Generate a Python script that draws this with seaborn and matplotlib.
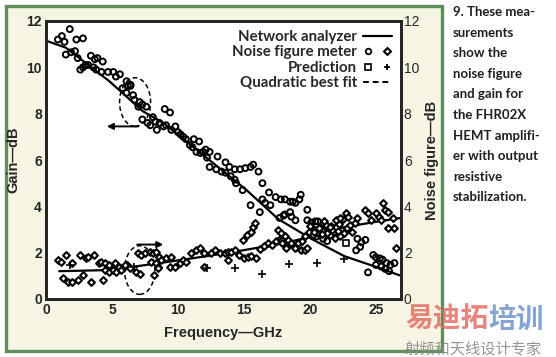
import matplotlib
matplotlib.use("Agg")
import matplotlib.pyplot as plt
from matplotlib.patches import Rectangle, Ellipse
from matplotlib.lines import Line2D
from matplotlib.legend_handler import HandlerTuple
import numpy as np
import pandas as pd
import seaborn as sns

# network analyzer curves (solid lines)
na_gain_freq = [0, 1.5, 4.8, 7.35, 8.9, 11.4, 15.2, 17.6, 20.1, 22.6, 25.2, 26.9]
na_gain_db = [11.15, 10.85, 9.4, 8.1, 7.6, 6.45, 4.7, 3.45, 2.6, 1.85, 1.35, 1.0]
na_nf_freq = [1.0, 4.8, 8.6, 11.0, 13.9, 16.4, 18.0, 20.1, 22.6, 25.2, 26.9]
na_nf_db = [1.2, 1.25, 1.55, 1.75, 2.0, 2.25, 2.4, 2.7, 3.1, 3.35, 3.5]

# noise figure meter, gain readings (circles)
nfm_gain_freq = [0.9, 1.2, 1.4, 1.8, 2.3, 2.8, 1.5, 1.9, 2.2, 2.6, 2.8, 3.2, 3.4, 3.7, 3.9, 4.3,
                 3.6, 3.8, 4.2, 4.7, 5.1, 5.6, 5.8, 6.2, 6.4, 6.1, 6.6, 6.7, 7.1, 7.0, 7.3, 7.6,
                 7.3, 7.7, 8.1, 8.3, 8.6, 8.9, 9.1, 9.0, 9.4, 7.9, 9.5, 9.8, 10.0, 10.2, 10.4,
                 10.6, 10.9, 11.1, 11.4, 11.7, 11.9, 12.1, 12.4, 13.0, 13.6, 13.9, 14.3, 14.7,
                 15.1, 15.5, 15.7, 16.1, 12.4, 12.9, 13.3, 13.6, 14.0, 14.3, 14.4, 14.9, 16.4,
                 16.9, 17.4, 17.8, 16.4, 16.6, 17.0, 15.5, 16.2, 17.7, 18.0, 18.1, 18.5, 18.7,
                 18.9, 19.2, 19.3, 18.1, 18.5, 18.6, 18.9, 19.8, 19.8, 20.1, 20.4, 20.6, 20.0,
                 20.5, 21.0, 21.3, 23.6, 23.9, 23.8, 23.5, 24.2, 24.4, 24.8, 25.0, 25.3, 25.5,
                 25.8, 26.1, 26.4, 25.0, 25.4, 25.7, 26.0, 6.1, 6.4, 5.3, 3.0, 2.4, 8.4, 11.2,
                 11.6, 12.2]
nfm_gain_db = [11.2, 11.35, 11.1, 11.65, 11.2, 11.25, 10.55, 10.65, 10.7, 9.9, 10.0, 10.1, 10.5,
               10.35, 10.4, 10.25, 10.0, 9.9, 9.8, 9.8, 9.8, 9.7, 9.1, 9.2, 9.25, 8.9, 8.8, 8.6,
               8.5, 8.3, 8.4, 8.3, 7.75, 7.6, 7.85, 7.65, 7.6, 7.45, 7.5, 8.2, 8.05, 7.5, 7.3,
               7.45, 7.2, 7.1, 7.0, 6.9, 6.65, 6.55, 6.35, 6.3, 6.35, 6.45, 6.35, 6.15, 5.9, 5.7,
               5.6, 5.6, 5.65, 5.7, 5.8, 5.5, 5.7, 5.6, 5.5, 5.45, 5.3, 5.15, 5.0, 4.7, 5.0, 4.6,
               4.4, 4.3, 4.3, 4.15, 4.05, 4.05, 3.75, 3.5, 3.6, 4.3, 4.2, 4.2, 4.15, 4.3, 4.5,
               3.65, 3.75, 3.55, 3.4, 3.85, 3.4, 3.3, 3.35, 3.35, 2.8, 2.7, 2.6, 2.5, 2.6, 2.45,
               2.25, 2.1, 2.55, 1.15, 1.9, 1.8, 1.75, 1.7, 1.55, 1.47, 1.55, 1.47, 1.4, 1.3, 1.2,
               9.4, 9.2, 9.6, 10.1, 10.4, 7.3, 6.9, 6.8, 6.1]

# noise figure meter, noise figure readings (diamonds)
nfm_nf_freq = [0.9, 1.1, 1.5, 2.0, 2.6, 3.0, 3.2, 3.6, 4.0, 4.2, 4.5, 4.8, 5.2, 5.5, 5.8, 6.1,
               6.4, 1.3, 1.7, 2.0, 2.4, 2.8, 3.4, 4.3, 4.5, 4.8, 5.1, 5.3, 5.7, 6.0, 7.0, 7.2,
               7.5, 7.9, 8.1, 8.3, 8.6, 7.95, 8.3, 8.5, 6.8, 7.1, 8.2, 8.5, 8.7, 9.1, 9.5, 9.4,
               9.8, 10.15, 10.4, 10.6, 11.0, 11.4, 11.7, 12.0, 12.5, 12.8, 13.2, 13.6, 13.8,
               14.0, 14.3, 12.0, 13.8, 14.6, 15.0, 15.3, 15.5, 15.9, 16.2, 16.5, 16.8, 17.1,
               17.4, 17.7, 17.9, 18.2, 18.5, 18.8, 19.1, 19.4, 14.9, 15.2, 15.5, 15.7, 15.8,
               17.6, 17.8, 18.1, 18.3, 18.6, 18.9, 19.3, 19.6, 19.8, 18.2, 17.9, 19.6, 19.9,
               20.2, 20.4, 20.6, 20.8, 21.0, 21.2, 21.4, 21.6, 21.8, 22.0, 22.2, 22.4, 22.6,
               22.8, 23.0, 21.5, 21.9, 22.3, 20.0, 21.1, 22.0, 22.5, 23.2, 23.4, 22.3, 22.7,
               22.9, 23.6, 24.2, 24.4, 25.0, 25.2, 25.7, 25.9, 26.3, 26.4, 25.9, 25.4, 25.5,
               24.6, 26.5, 20.3, 20.7, 21.3, 21.7, 22.1, 20.9, 21.5]
nfm_nf_db = [1.7, 1.6, 1.9, 1.55, 1.9, 1.75, 1.8, 1.9, 1.55, 1.6, 1.55, 1.47, 1.55, 1.39, 1.34,
             1.47, 1.34, 0.9, 0.75, 0.75, 0.8, 1.05, 0.75, 0.8, 1.25, 1.15, 1.25, 1.15, 1.25,
             1.47, 2.0, 1.9, 2.0, 2.05, 2.0, 2.05, 1.8, 1.6, 1.55, 1.4, 1.15, 1.1, 1.05, 1.35,
             1.7, 1.77, 1.8, 1.39, 1.39, 1.55, 1.7, 1.6, 2.0, 2.1, 2.2, 2.0, 2.0, 2.1, 2.0, 2.0,
             2.03, 2.03, 2.1, 1.4, 1.7, 1.9, 1.75, 1.8, 1.85, 1.75, 2.15, 2.3, 2.4, 2.35, 2.5,
             2.6, 2.55, 2.45, 2.4, 2.3, 2.4, 2.5, 2.55, 2.75, 2.9, 3.1, 3.3, 3.0, 2.85, 2.7,
             2.55, 2.4, 2.2, 2.1, 2.1, 2.2, 2.2, 2.4, 2.7, 2.9, 2.75, 3.0, 2.85, 3.1, 2.95, 3.2,
             3.0, 3.15, 2.9, 3.1, 3.25, 3.0, 2.85, 3.05, 3.2, 2.75, 2.65, 2.7, 3.15, 3.35, 3.4,
             3.45, 2.9, 3.3, 3.5, 3.7, 3.55, 3.5, 3.85, 3.7, 3.7, 3.55, 3.85, 3.75, 3.5, 3.05,
             3.05, 3.4, 4.15, 3.4, 2.2, 2.9, 3.05, 2.85, 3.0, 2.95, 2.8, 3.1]

# prediction
pred_gain_freq = [22.7]
pred_gain_db = [2.4]
pred_nf_freq = [1.8, 6.7, 12.2, 14.3, 16.4, 18.4, 20.5, 22.6]
pred_nf_db = [1.47, 1.4, 1.34, 1.34, 1.1, 1.5, 1.55, 1.73]

x_ticks = [0, 5, 10, 15, 20, 25]
y_ticks = [0, 2, 4, 6, 8, 10, 12]

caption = ("9. These mea-\nsurements\nshow the\nnoise figure\nand gain for\n"
           "the FHR02X\nHEMT amplifi-\ner with output\nresistive\nstabilization.")

sns.set_style("white")
plt.rcParams["font.family"] = ["Liberation Sans", "DejaVu Sans"]

fig = plt.figure(figsize=(5.56, 3.57), dpi=100)
fig.patch.set_facecolor("white")
panel = Rectangle((6 / 556, 6 / 357), 436 / 556, 345 / 357, transform=fig.transFigure,
                  facecolor="#f6f4e2", edgecolor="#5f8d5c", linewidth=2.4, zorder=-10)
fig.patches.append(panel)

ax = fig.add_axes([46 / 556, 1 - 299 / 357, 355 / 556, 278 / 357])
ax.set_facecolor("white")

sns.lineplot(x=na_gain_freq, y=na_gain_db, ax=ax, color="black", lw=1.6,
             sort=False, estimator=None)
sns.lineplot(x=na_nf_freq, y=na_nf_db, ax=ax, color="black", lw=1.6,
             sort=False, estimator=None)
sns.scatterplot(x=nfm_gain_freq, y=nfm_gain_db, ax=ax, marker="o", s=18,
                facecolor="none", edgecolor="black", linewidth=1.4, zorder=3)
sns.scatterplot(x=nfm_nf_freq, y=nfm_nf_db, ax=ax, marker="D", s=12,
                facecolor="white", edgecolor="black", linewidth=1.5, zorder=3)
sns.scatterplot(x=pred_gain_freq, y=pred_gain_db, ax=ax, marker="s", s=22,
                facecolor="white", edgecolor="black", linewidth=1.2, zorder=4)
sns.scatterplot(x=pred_nf_freq, y=pred_nf_db, ax=ax, marker="+", s=30,
                color="black", linewidth=1.2, zorder=4)

# dashed circles and arrows marking which axis each set belongs to
ax.add_patch(Ellipse((6.75, 8.5), 2.35, 2.1, fill=False, ls=(0, (3, 2)), lw=1.1, color="black"))
ax.add_patch(Ellipse((7.1, 1.25), 2.3, 2.1, fill=False, ls=(0, (3, 2)), lw=1.1, color="black"))
ax.annotate("", xy=(4.4, 7.45), xytext=(7.2, 7.45),
            arrowprops=dict(arrowstyle="-|>", lw=1.4, color="black", mutation_scale=9))
ax.annotate("", xy=(9.1, 2.35), xytext=(6.7, 2.35),
            arrowprops=dict(arrowstyle="-|>", lw=1.4, color="black", mutation_scale=9))

ax.set_xlim(0, 26.9)
ax.set_ylim(0, 12)
ax.set_xticks(x_ticks)
ax.set_yticks(y_ticks)
ax.tick_params(length=0, labelsize=10, pad=3)
for t in ax.get_xticklabels() + ax.get_yticklabels():
    t.set_fontweight("bold")
for s in ax.spines.values():
    s.set_linewidth(1.9)
    s.set_color("black")
ax.set_xlabel("Frequency—GHz", fontsize=10.5, fontweight="bold", labelpad=6)
ax.set_ylabel("Gain—dB", fontsize=10.5, fontweight="bold", labelpad=4)

ax2 = ax.twinx()
ax2.set_ylim(0, 12)
ax2.set_yticks(y_ticks)
ax2.tick_params(length=0, labelsize=10, pad=2)
ax2.set_ylabel("Noise figure—dB", fontsize=10.5, fontweight="bold", labelpad=4)
for s in ax2.spines.values():
    s.set_linewidth(1.9)

h_na = Line2D([], [], color="black", lw=1.6)
h_c = Line2D([], [], marker="o", ls="none", mfc="none", mec="black", ms=4, mew=1.3)
h_d = Line2D([], [], marker="D", ls="none", mfc="white", mec="black", ms=3.5, mew=1.5)
h_s = Line2D([], [], marker="s", ls="none", mfc="white", mec="black", ms=4, mew=1.2)
h_p = Line2D([], [], marker="+", ls="none", color="black", ms=5, mew=1.3)
h_q = Line2D([], [], color="black", lw=1.4, ls=(0, (3, 2)))
ax.legend([h_na, (h_c, h_d), (h_s, h_p), h_q],
          ["Network analyzer", "Noise figure meter", "Prediction", "Quadratic best fit"],
          handler_map={tuple: HandlerTuple(ndivide=None, pad=0.6)},
          loc="upper right", bbox_to_anchor=(0.995, 0.995), frameon=False,
          markerfirst=False, handlelength=1.9, handletextpad=0.4, labelspacing=0.1,
          borderaxespad=0.1, prop={"family": "Lato", "weight": "bold", "size": 10.8})

fig.text(453 / 556, 1 - 6 / 357, caption, ha="left", va="top", fontsize=9.5,
         family="Lato", fontweight="bold", color="#1f1f1f", linespacing=1.86)

# watermark
cjk = ["Noto Sans CJK SC", "DejaVu Sans"]
fig.text(405 / 556, 1 - 328 / 357, "易迪拓", family=cjk, fontsize=20, fontweight="bold",
         color="#e36f66", alpha=0.85)
fig.text(488 / 556, 1 - 328 / 357, "培训", family=cjk, fontsize=20, fontweight="bold",
         color="#6f95c9", alpha=0.85)
fig.text(405 / 556, 1 - 353 / 357, "射频和天线设计专家", family=cjk, fontsize=11,
         color="#8a8a8a", alpha=0.9)

fig.savefig("out.png", dpi=100)
